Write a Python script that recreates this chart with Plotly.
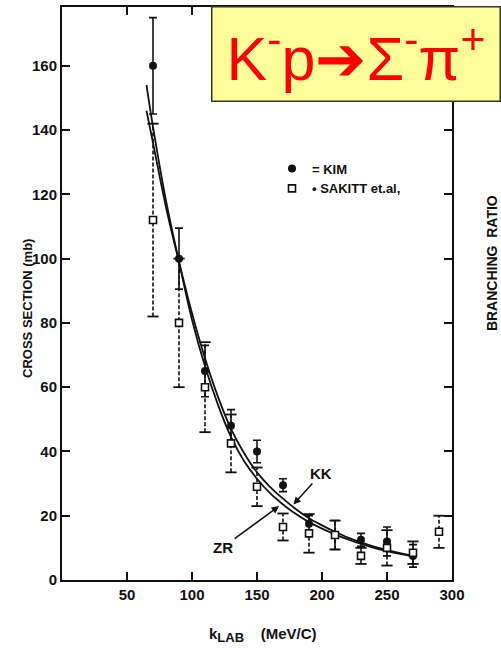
import plotly.graph_objects as go

# ---------------- data ----------------
kim_x = [70, 90, 110, 130, 150, 170, 190, 210, 230, 250, 270]
kim_y = [160, 100, 65, 48, 40, 29.5, 17.5, 14, 12.5, 12, 7.5]
kim_err = [15, 9.5, 8, 5, 3.5, 2, 2.5, 4.5, 2, 4.5, 3.5]

sakitt_x = [70, 90, 110, 130, 150, 170, 190, 210, 230, 250, 270, 290]
sakitt_y = [112, 80, 60, 42.5, 29, 16.5, 14.5, 14, 7.5, 10, 8.5, 15]
sakitt_err = [30, 20, 14, 9, 6, 4.2, 6, 4.5, 2.5, 5.5, 3.5, 5]

curve_x = [65, 70, 80, 90, 100, 110, 120, 130, 140, 150, 160, 170, 180, 190,
           200, 210, 220, 230, 240, 250, 260, 270]
kk_y = [146, 136, 116, 99, 83, 69, 57, 47, 39.5, 33.5, 29, 25.3, 22, 19.2,
        17, 15, 13.2, 11.7, 10.4, 9.3, 8.4, 7.5]
zr_y = [154, 141, 118, 99, 81, 66.5, 54.5, 44.5, 37, 31.5, 27, 23.5, 20.5, 18,
        16, 14.2, 12.6, 11.2, 10, 9, 8.1, 7.3]

x_ticks = [50, 100, 150, 200, 250, 300]
y_ticks = [0, 20, 40, 60, 80, 100, 120, 140, 160]

INK = "#111111"
FONT = "Liberation Sans"

fig = go.Figure()

# theory curves
for name, ys in (("KK", kk_y), ("ZR", zr_y)):
    fig.add_trace(go.Scatter(x=curve_x, y=ys, mode="lines", name=name,
                             line=dict(color=INK, width=1.8, shape="spline"),
                             showlegend=False, hoverinfo="skip"))

# SAKITT dashed error bars built from the data
bx, by, cx, cy = [], [], [], []
for x, y, e in zip(sakitt_x, sakitt_y, sakitt_err):
    bx += [x, x, None]
    by += [y - e, y + e, None]
    cx += [x, x]
    cy += [y - e, y + e]
fig.add_trace(go.Scatter(x=bx, y=by, mode="lines", showlegend=False,
                         line=dict(color=INK, width=1.6, dash="4px,2px"),
                         hoverinfo="skip"))
fig.add_trace(go.Scatter(x=cx, y=cy, mode="markers", showlegend=False,
                         marker=dict(symbol="line-ew-open", size=8, color=INK,
                                     line=dict(color=INK, width=1.8)),
                         hoverinfo="skip"))

# KIM
fig.add_trace(go.Scatter(x=kim_x, y=kim_y, mode="markers", name="= KIM",
                         marker=dict(symbol="circle", size=8, color=INK),
                         error_y=dict(type="data", array=kim_err, visible=True,
                                      color=INK, thickness=1.6, width=4)))
# SAKITT markers
fig.add_trace(go.Scatter(x=sakitt_x, y=sakitt_y, mode="markers",
                         name="• SAKITT et.al,",
                         marker=dict(symbol="square", size=7, color="white",
                                     line=dict(color=INK, width=1.6))))

L, R, T, B = 62, 49, 5, 69
W, H = 501, 649
pw, ph = W - L - R, H - T - B


def px(xp):
    return (xp - L) / pw


def py(yp):
    return (H - B - yp) / ph


axis_common = dict(showline=True, linecolor=INK, linewidth=2, mirror="ticks",
                   ticks="inside", ticklen=8, tickwidth=1.6, tickcolor=INK,
                   showgrid=False, zeroline=False,
                   tickfont=dict(family=FONT, size=15, color=INK, weight="bold"))

fig.update_layout(
    width=W, height=H,
    margin=dict(l=L, r=R, t=T, b=B),
    paper_bgcolor="white", plot_bgcolor="white",
    xaxis=dict(range=[0, 300], tickvals=x_ticks,
               ticktext=[str(v) for v in x_ticks], **axis_common),
    yaxis=dict(range=[0, 178.3], tickvals=y_ticks,
               ticktext=[str(v) for v in y_ticks], **axis_common),
    legend=dict(x=px(272), y=py(152), xanchor="left", yanchor="top",
                bgcolor="rgba(0,0,0,0)",
                font=dict(family=FONT, size=13, color=INK, weight="bold"),
                itemwidth=30, tracegroupgap=0),
    font=dict(family=FONT, color=INK),
)

annots = [
    # title box
    dict(xref="paper", yref="paper", x=px(211), y=py(4), xanchor="left",
         yanchor="top", showarrow=False, width=287, height=93,
         bgcolor="#FFFF99", bordercolor="#333333", borderwidth=1.5, borderpad=0,
         text="K<sup>-</sup>p➔Σ<sup>-</sup>π<sup>+</sup>",
         font=dict(family=FONT, size=61, color="#FF0000")),
    # axis titles
    dict(xref="paper", yref="paper", x=px(28), y=py(308), xanchor="center",
         yanchor="middle", showarrow=False,
         textangle=-90, text="CROSS SECTION (mb)",
         font=dict(family=FONT, size=13, color=INK, weight="bold")),
    dict(xref="paper", yref="paper", x=px(263), y=py(635), xanchor="center",
         yanchor="middle", showarrow=False,
         text="k<sub><span style='font-size:13px'>LAB</span></sub>\u00a0\u00a0\u00a0\u00a0(MeV/C)",
         font=dict(family=FONT, size=15, color=INK, weight="bold")),
    dict(xref="paper", yref="paper", x=px(492), y=py(262), xanchor="center",
         yanchor="middle", showarrow=False,
         textangle=-90, text="BRANCHING  RATIO",
         font=dict(family=FONT, size=14, color=INK, weight="bold")),
    # curve labels
    dict(x=178, y=23.5, xref="x", yref="y", text="KK", showarrow=True,
         ax=28, ay=-31, arrowhead=2, arrowsize=1, arrowwidth=1.5,
         arrowcolor=INK, font=dict(family=FONT, size=15, color=INK, weight="bold")),
    dict(x=167, y=23, xref="x", yref="y", text="ZR", showarrow=True,
         ax=-56, ay=41, arrowhead=2, arrowsize=1, arrowwidth=1.5,
         arrowcolor=INK, font=dict(family=FONT, size=15, color=INK, weight="bold")),
]
fig.update_layout(annotations=annots)

fig.write_html("out.html")
